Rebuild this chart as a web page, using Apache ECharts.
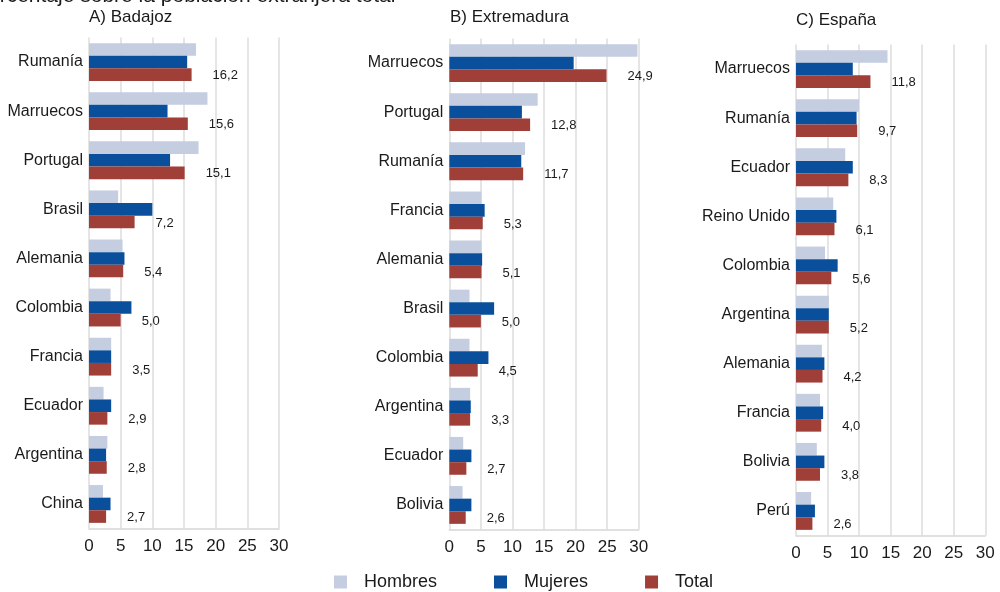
<!DOCTYPE html>
<html>
<head>
<meta charset="utf-8">
<script src="https://cdn.jsdelivr.net/npm/echarts@6/dist/echarts.min.js"></script>
<style>html,body{margin:0;padding:0;background:#fff;}#c{width:1000px;height:592px;}</style>
</head>
<body>
<div id="c"></div>
<script>
var catsA = ['Rumanía','Marruecos','Portugal','Brasil','Alemania','Colombia','Francia','Ecuador','Argentina','China'];
var hombresA = [16.9,18.7,17.3,4.6,5.3,3.4,3.5,2.3,2.9,2.2];
var mujeresA = [15.5,12.4,12.8,10.0,5.6,6.7,3.5,3.5,2.7,3.4];
var totalA = [16.2,15.6,15.1,7.2,5.4,5.0,3.5,2.9,2.8,2.7];

var catsB = ['Marruecos','Portugal','Rumanía','Francia','Alemania','Brasil','Colombia','Argentina','Ecuador','Bolivia'];
var hombresB = [29.8,14.0,12.0,5.1,5.1,3.2,3.2,3.3,2.2,2.1];
var mujeresB = [19.7,11.5,11.4,5.6,5.2,7.1,6.2,3.4,3.5,3.5];
var totalB = [24.9,12.8,11.7,5.3,5.1,5.0,4.5,3.3,2.7,2.6];

var catsC = ['Marruecos','Rumanía','Ecuador','Reino Unido','Colombia','Argentina','Alemania','Francia','Bolivia','Perú'];
var hombresC = [14.5,10.0,7.8,5.9,4.6,5.2,4.1,3.8,3.3,2.4];
var mujeresC = [9.0,9.6,9.0,6.4,6.6,5.2,4.5,4.3,4.5,3.0];
var totalC = [11.8,9.7,8.3,6.1,5.6,5.2,4.2,4.0,3.8,2.6];

var titles = ['A) Badajoz','B) Extremadura','C) España'];
var seriesNames = ['Hombres','Mujeres','Total'];
var xTicks = [0,5,10,15,20,25,30];

var FONT = '"Liberation Sans", Arial, sans-serif';
var colors = {Hombres:'#c5cde0', Mujeres:'#0a4f9b', Total:'#a03f38'};

var panels = [
  {cats:catsA, data:[hombresA,mujeresA,totalA], grid:{left:89, top:37.5, width:190, height:491}, titleX:89, titleY:18},
  {cats:catsB, data:[hombresB,mujeresB,totalB], grid:{left:449.3, top:38.5, width:189.4, height:491}, titleX:450, titleY:18},
  {cats:catsC, data:[hombresC,mujeresC,totalC], grid:{left:796, top:44.5, width:189.3, height:491}, titleX:796, titleY:21}
];

var grids=[], xAxes=[], yAxes=[], series=[], graphics=[];
panels.forEach(function(p, i){
  grids.push(p.grid);
  xAxes.push({
    type:'value', gridIndex:i, min:0, max:30, interval:5,
    axisLine:{show:true, lineStyle:{color:'#d6d6d6', width:1.5}},
    axisTick:{show:false},
    splitLine:{show:true, lineStyle:{color:'#dcdcdc', width:1.5}},
    axisLabel:{color:'#1a1a1a', fontSize:17, fontFamily:FONT, margin:9,
      formatter:function(v){ return xTicks.indexOf(v) >= 0 ? String(v) : ''; }}
  });
  yAxes.push({
    type:'category', gridIndex:i, data:p.cats, inverse:true,
    axisLine:{show:false}, axisTick:{show:false},
    axisLabel:{color:'#1a1a1a', fontSize:16, fontFamily:FONT, margin:6}
  });
  seriesNames.forEach(function(name, k){
    var s = {
      type:'bar', name:name, xAxisIndex:i, yAxisIndex:i, data:p.data[k],
      barGap:'0%', barCategoryGap:'23%',
      itemStyle:{color:colors[name]},
      emphasis:{disabled:true}, animation:false
    };
    if (name === 'Total') {
      s.label = {show:true, position:'right', distance:21, offset:[0,1],
        color:'#1a1a1a', fontSize:13, fontFamily:FONT,
        formatter:function(prm){ return prm.value.toFixed(1).replace('.', ','); }};
    }
    series.push(s);
  });
  graphics.push({type:'text', left:p.titleX, top:p.titleY-9,
    style:{text:titles[i], fontSize:17, fontFamily:FONT, fill:'#1a1a1a'}});
});

graphics.push({type:'text', left:-26, top:-14,
  style:{text:'Porcentaje sobre la población extranjera total', fontSize:21, fontFamily:FONT, fill:'#1a1a1a'}});

var chart = echarts.init(document.getElementById('c'), null, {renderer:'canvas'});
chart.setOption({
  animation:false,
  grid:grids, xAxis:xAxes, yAxis:yAxes, series:series,
  legend:{
    data:seriesNames, left:329, top:568, icon:'rect', itemWidth:13, itemHeight:13, itemGap:57,
    textStyle:{fontSize:18, fontFamily:FONT, color:'#1a1a1a', padding:[0,0,0,12]}
  },
  graphic:graphics
});
</script>
</body>
</html>
